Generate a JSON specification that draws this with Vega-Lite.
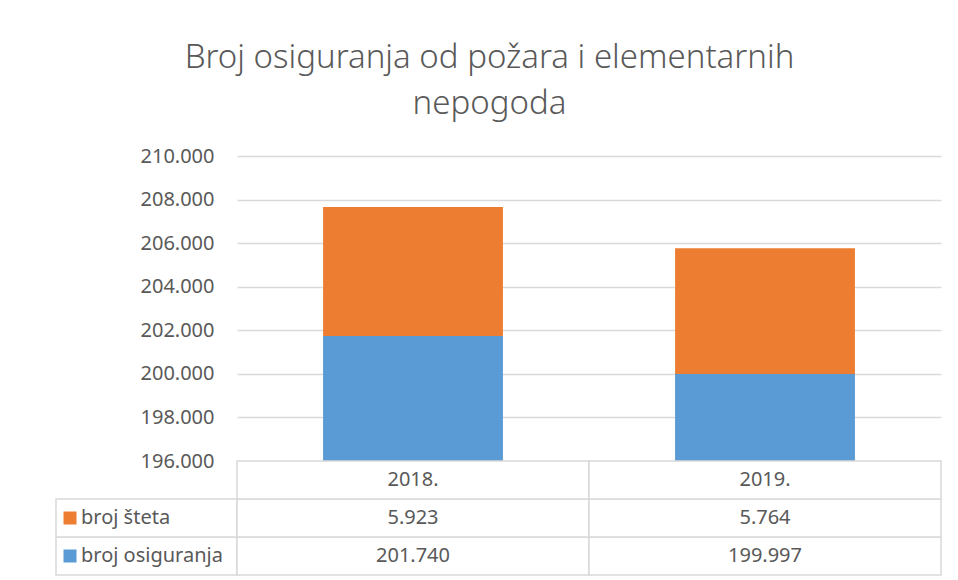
{
  "$schema": "https://vega.github.io/schema/vega-lite/v6.json",
  "padding": {"left": 55, "top": 42, "right": 18, "bottom": 5},
  "title": {
    "text": ["Broj osiguranja od požara i elementarnih", "nepogoda"],
    "fontSize": 33,
    "font": "Noto Sans",
    "fontWeight": 300,
    "color": "#595959",
    "lineHeight": 46,
    "anchor": "middle",
    "offset": 25,
    "dx": -9
  },
  "config": {
    "view": {"stroke": null},
    "font": "Noto Sans",
    "locale": {"number": {"decimal": ",", "thousands": ".", "grouping": [3], "currency": ["", ""]}}
  },
  "datasets": {
    "main": [
      {"year": "2018.", "series": "broj osiguranja", "ord": 1, "value": 201740},
      {"year": "2018.", "series": "broj šteta", "ord": 2, "value": 5923},
      {"year": "2019.", "series": "broj osiguranja", "ord": 1, "value": 199997},
      {"year": "2019.", "series": "broj šteta", "ord": 2, "value": 5764}
    ],
    "years": [{"year": "2018."}, {"year": "2019."}]
  },
  "columns": 2,
  "align": "each",
  "bounds": "flush",
  "spacing": 0,
  "concat": [
    {
      "width": 181,
      "height": 305,
      "data": {"values": []},
      "mark": "point"
    },
    {
      "width": 704,
      "height": 305,
      "data": {"name": "main"},
      "mark": {"type": "bar", "clip": true},
      "encoding": {
        "x": {"field": "year", "type": "nominal", "axis": null, "scale": {"paddingInner": 0.489, "paddingOuter": 0.2445}},
        "y": {
          "field": "value", "type": "quantitative", "stack": "zero",
          "scale": {"domain": [196000, 210000], "zero": false, "nice": false},
          "axis": {
            "values": [196000, 198000, 200000, 202000, 204000, 206000, 208000, 210000],
            "format": ",.0f", "title": null, "domain": false, "ticks": false,
            "grid": true, "gridColor": "#d9d9d9", "gridWidth": 1.3,
            "labelFontSize": 20, "labelColor": "#595959", "labelPadding": 23, "labelFont": "Noto Sans"
          }
        },
        "color": {
          "field": "series", "type": "nominal",
          "scale": {"domain": ["broj šteta", "broj osiguranja"], "range": ["#ed7d31", "#5b9bd5"]},
          "legend": null
        },
        "order": {"field": "ord", "type": "quantitative"}
      }
    },
    {
      "width": 181,
      "height": 114,
      "data": {"name": "main"},
      "transform": [{"filter": "datum.year == '2018.'"}],
      "encoding": {
        "y": {"field": "series", "type": "nominal", "scale": {"domain": ["hdr", "broj šteta", "broj osiguranja"], "paddingInner": 0, "paddingOuter": 0}, "axis": null}
      },
      "layer": [
        {"mark": {"type": "rect", "fill": "white", "stroke": "#d9d9d9", "strokeWidth": 1.5}},
        {
          "mark": {"type": "point", "shape": "square", "filled": true, "opacity": 1, "size": 169, "x": 14},
          "encoding": {
            "color": {
              "field": "series", "type": "nominal",
              "scale": {"domain": ["broj šteta", "broj osiguranja"], "range": ["#ed7d31", "#5b9bd5"]},
              "legend": null
            }
          }
        },
        {
          "mark": {"type": "text", "align": "left", "baseline": "middle", "x": 25, "fontSize": 20, "color": "#595959"},
          "encoding": {"text": {"field": "series"}}
        }
      ]
    },
    {
      "width": 704,
      "height": 114,
      "layer": [
        {
          "data": {"name": "main"},
          "mark": {"type": "rect", "fill": "white", "stroke": "#d9d9d9", "strokeWidth": 1.5},
          "encoding": {
            "x": {"field": "year", "type": "nominal", "axis": null, "scale": {"paddingInner": 0, "paddingOuter": 0}},
            "y": {"field": "series", "type": "nominal", "scale": {"domain": ["hdr", "broj šteta", "broj osiguranja"], "paddingInner": 0, "paddingOuter": 0}, "axis": null}
          }
        },
        {
          "data": {"name": "years"},
          "mark": {"type": "rect", "fill": "white", "stroke": "#d9d9d9", "strokeWidth": 1.5},
          "encoding": {
            "x": {"field": "year", "type": "nominal", "axis": null, "scale": {"paddingInner": 0, "paddingOuter": 0}},
            "y": {"datum": "hdr", "type": "nominal", "scale": {"domain": ["hdr", "broj šteta", "broj osiguranja"], "paddingInner": 0, "paddingOuter": 0}, "axis": null}
          }
        },
        {
          "data": {"name": "main"},
          "mark": {"type": "text", "baseline": "middle", "fontSize": 20, "color": "#595959"},
          "encoding": {
            "x": {"field": "year", "type": "nominal", "axis": null, "scale": {"paddingInner": 0, "paddingOuter": 0}},
            "y": {"field": "series", "type": "nominal", "scale": {"domain": ["hdr", "broj šteta", "broj osiguranja"], "paddingInner": 0, "paddingOuter": 0}, "axis": null},
            "text": {"field": "value", "type": "quantitative", "format": ","}
          }
        },
        {
          "data": {"name": "years"},
          "mark": {"type": "text", "baseline": "middle", "fontSize": 20, "color": "#595959"},
          "encoding": {
            "x": {"field": "year", "type": "nominal", "axis": null, "scale": {"paddingInner": 0, "paddingOuter": 0}},
            "y": {"datum": "hdr", "type": "nominal", "scale": {"domain": ["hdr", "broj šteta", "broj osiguranja"], "paddingInner": 0, "paddingOuter": 0}, "axis": null},
            "text": {"field": "year"}
          }
        }
      ]
    }
  ]
}
